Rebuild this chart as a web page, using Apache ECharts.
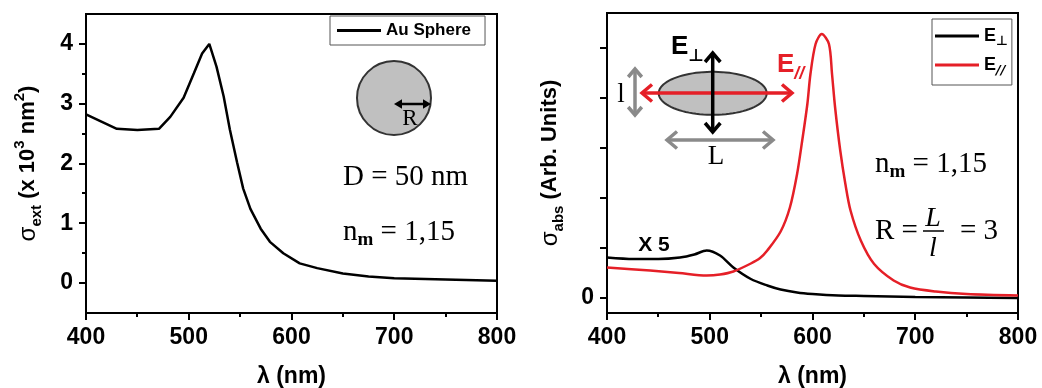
<!DOCTYPE html>
<html><head><meta charset="utf-8">
<script src="https://cdn.jsdelivr.net/npm/echarts@6/dist/echarts.min.js"></script>
<style>html,body{margin:0;padding:0;background:#fff}#c{width:1042px;height:388px}</style>
</head><body><div id="c"></div>
<script>
// ---- data ----
const extLambda = [400,415,430,450,471,482,495,505,513,520,527,534,540,547,553,560,570,579,592,608,625,650,675,700,750,800];
const extSigma  = [2.82,2.70,2.58,2.56,2.58,2.78,3.10,3.51,3.84,4.00,3.62,3.12,2.57,2.02,1.58,1.24,0.91,0.69,0.50,0.33,0.25,0.16,0.11,0.08,0.06,0.04];
const perpLambda = [400,426,450,471,485,497,510,523,540,556,569,585,600,625,650,700,750,800];
const perpSigma  = [0.81,0.78,0.78,0.81,0.87,0.95,0.85,0.61,0.38,0.25,0.17,0.11,0.08,0.05,0.04,0.02,0.01,0.0];
const parLambda = [400,442,470,497,510,523,540,549,556,569,578,585,590,595,598,603,609,616,619,622,627,632,637,647,660,679,695,720,750,800];
const parSigma  = [0.61,0.55,0.50,0.45,0.47,0.53,0.69,0.80,0.95,1.33,1.81,2.48,3.15,3.88,4.48,5.08,5.28,5.08,4.48,3.81,2.95,2.28,1.75,1.15,0.68,0.35,0.21,0.13,0.08,0.05];
const xMajorTicks = [400,500,600,700,800];
const xMinorTicks = [450,550,650,750];
const extMajorTicks = [0,1,2,3,4];
const extMinorTicks = [0.5,1.5,2.5,3.5];
const absTicks = [0,1,2,3,4,5];
const absLabels = [0];
const seriesNames = ['Au Sphere','E⊥','E//'];

const SANS = '"Liberation Sans", Arial, sans-serif';
const SERIF = '"Liberation Serif", "Times New Roman", serif';
const RED = '#e51f27';
const GREY = '#8a8a8a';
const TICK_COLOR = '#000';

function zip(a,b){return a.map((v,i)=>[v,b[i]]);}

function xAxis(g){
  return {type:'value',gridIndex:g,min:400,max:800,
    axisLine:{show:true,onZero:false,lineStyle:{color:'#000',width:2}},
    axisTick:{show:false},
    splitLine:{show:false},
    axisLabel:{customValues:xMajorTicks,color:'#000',fontFamily:SANS,fontWeight:'bold',fontSize:23,margin:13},
    name:'λ (nm)',nameLocation:'middle',nameGap:52,
    nameTextStyle:{color:'#000',fontFamily:SANS,fontWeight:'bold',fontSize:23}};
}
const nameRich = {
  a:{fontFamily:SANS,fontWeight:'bold',fontSize:22,lineHeight:32,color:'#000'},
  sg:{fontFamily:SANS,fontSize:24,lineHeight:32,color:'#000'},
  b:{fontFamily:SANS,fontWeight:'bold',fontSize:15,lineHeight:13,verticalAlign:'bottom',color:'#000'},
  c:{fontFamily:SANS,fontWeight:'bold',fontSize:15,lineHeight:13,verticalAlign:'top',color:'#000'}
};

function arrowHead(tx,ty,dx,dy,size,color,w){
  const px=-dy, py=dx;
  return {type:'polyline',z:50,shape:{points:[[tx-dx*size+px*size*0.85,ty-dy*size+py*size*0.85],[tx,ty],[tx-dx*size-px*size*0.85,ty-dy*size-py*size*0.85]]},
    style:{stroke:color,lineWidth:w,fill:null,lineJoin:'miter',lineCap:'butt'}};
}
function dblArrow(x1,y1,x2,y2,color,w,size){
  const L=Math.hypot(x2-x1,y2-y1), dx=(x2-x1)/L, dy=(y2-y1)/L;
  return [
    {type:'line',z:50,shape:{x1:x1+dx*2,y1:y1+dy*2,x2:x2-dx*2,y2:y2-dy*2},style:{stroke:color,lineWidth:w}},
    arrowHead(x2,y2,dx,dy,size,color,w),
    arrowHead(x1,y1,-dx,-dy,size,color,w)
  ];
}
function filledArrow(x1,x2,y,size,color,w){
  return [
    {type:'line',z:50,shape:{x1:x1+size,y1:y,x2:x2-size,y2:y},style:{stroke:color,lineWidth:w}},
    {type:'polygon',z:50,shape:{points:[[x1,y],[x1+size,y-size*0.6],[x1+size,y+size*0.6]]},style:{fill:color}},
    {type:'polygon',z:50,shape:{points:[[x2,y],[x2-size,y-size*0.6],[x2-size,y+size*0.6]]},style:{fill:color}}
  ];
}
function ellipsePts(cx,cy,rx,ry){
  const p=[];for(let i=0;i<90;i++){const t=i/90*Math.PI*2;p.push([cx+rx*Math.cos(t),cy+ry*Math.sin(t)]);}return p;
}
function txt(x,y,text,style){
  return {type:'text',z:60,x:x,y:y,style:Object.assign({text:text,fill:'#000',textAlign:'left',textVerticalAlign:'middle'},style)};
}
const nmRich = {
  n:{fontFamily:SERIF,fontSize:29,lineHeight:36,color:'#000'},
  m:{fontFamily:SERIF,fontWeight:'bold',fontSize:19,lineHeight:18,verticalAlign:'bottom',color:'#000'}
};

const graphics = [
  {type:'circle',z:40,shape:{cx:394,cy:98,r:37},style:{fill:'#c0c0c0',stroke:'#333',lineWidth:2}},
  ...filledArrow(394,431,104,8,'#000',2.5),
  txt(410,119,'R',{font:'23px '+SERIF,textAlign:'center'}),
  txt(343,177,'D = 50 nm',{font:'29px '+SERIF}),
  txt(343,232,'{n|n}{m|m}{n| = 1,15}',{rich:nmRich}),
  {type:'polygon',z:40,shape:{points:ellipsePts(712.7,93.3,54,21.5)},style:{fill:'#c0c0c0',stroke:'#333',lineWidth:2}},
  ...dblArrow(635,69,635,115,GREY,3.5,8),
  ...dblArrow(667,140,773,140,GREY,3.5,10),
  ...dblArrow(642,93,792,93,RED,3.5,10),
  ...dblArrow(712.7,53,712.7,132,'#000',3.5,9),
  txt(621,95,'l',{font:'27px '+SERIF,textAlign:'center'}),
  txt(716,157,'L',{font:'27px '+SERIF,textAlign:'center'}),
  txt(671,47,'{e|E}{s|⊥}',{rich:{e:{fontFamily:SANS,fontWeight:'bold',fontSize:26,lineHeight:36,fill:'#000'},s:{fontFamily:'"DejaVu Sans", sans-serif',fontWeight:'bold',fontSize:17,lineHeight:16,verticalAlign:'bottom',fill:'#000'}}}),
  txt(777,65,'{e|E}{s|//}',{fill:RED,rich:{e:{fontFamily:SANS,fontWeight:'bold',fontSize:26,lineHeight:36,fill:RED},s:{fontFamily:SANS,fontWeight:'bold',fontStyle:'italic',fontSize:18,lineHeight:18,verticalAlign:'bottom',fill:RED}}}),
  txt(654,245,'X 5',{font:'bold 21px '+SANS,textAlign:'center'}),
  txt(875,164,'{n|n}{m|m}{n| = 1,15}',{rich:nmRich}),
  txt(875,231,'R =',{font:'29px '+SERIF}),
  txt(933,219,'L',{font:'italic 28px '+SERIF,textAlign:'center'}),
  {type:'line',z:60,shape:{x1:923,y1:231,x2:944,y2:231},style:{stroke:'#000',lineWidth:1.5}},
  txt(933,249,'l',{font:'italic 28px '+SERIF,textAlign:'center'}),
  txt(960,231,'= 3',{font:'29px '+SERIF})
];

const chart = echarts.init(document.getElementById('c'),null,{renderer:'canvas'});
chart.setOption({
  backgroundColor:'#fff',
  animation:false,
  grid:[
    {left:86,top:14,width:411,height:299,show:true,borderColor:'#000',borderWidth:2,backgroundColor:'transparent',outerBoundsMode:'none'},
    {left:607,top:13,width:411,height:300,show:true,borderColor:'#000',borderWidth:2,backgroundColor:'transparent',outerBoundsMode:'none'}
  ],
  xAxis:[xAxis(0),xAxis(1)],
  yAxis:[
    {type:'value',gridIndex:0,min:-0.5,max:4.5,
      axisLine:{show:true,onZero:false,lineStyle:{color:'#000',width:2}},
      axisTick:{show:false},
      axisLabel:{customValues:extMajorTicks,color:'#000',fontFamily:SANS,fontWeight:'bold',fontSize:23,margin:13},
      splitLine:{show:false},
      name:'{sg|σ}{b|ext}{a| (x 10}{c|3}{a| nm}{c|2}{a|)}',nameLocation:'middle',nameRotate:90,nameGap:42,
      nameTextStyle:{rich:nameRich}},
    {type:'value',gridIndex:1,min:-0.3,max:5.7,
      axisLine:{show:true,onZero:false,lineStyle:{color:'#000',width:2}},
      axisTick:{show:false},
      axisLabel:{customValues:absLabels,color:'#000',fontFamily:SANS,fontWeight:'bold',fontSize:23,margin:13},
      splitLine:{show:false},
      name:'{sg|σ}{b|abs}{a| (Arb. Units)}',nameLocation:'middle',nameRotate:90,nameGap:41,
      nameTextStyle:{rich:nameRich}}
  ],
  legend:[
    {data:[seriesNames[0]],left:330,top:16,orient:'vertical',selectedMode:false,icon:'rect',
      borderColor:'#555',borderWidth:1,padding:[6,14,6,7],itemWidth:44,itemHeight:3,itemGap:5,
      textStyle:{fontFamily:SANS,fontWeight:'bold',fontSize:17,color:'#000'}},
    {data:[seriesNames[1],seriesNames[2]],left:932,top:19,orient:'vertical',selectedMode:false,icon:'rect',
      borderColor:'#555',borderWidth:1,padding:[8,4,8,3],itemWidth:44,itemHeight:3,itemGap:8,
      formatter:function(n){return n===seriesNames[1]?'{e|E}{s|⊥}':'{e|E}{s|//}';},
      textStyle:{color:'#000',rich:{
        e:{fontFamily:SANS,fontWeight:'bold',fontSize:18,lineHeight:24,color:'#000'},
        s:{fontFamily:'"DejaVu Sans", sans-serif',fontWeight:'bold',fontStyle:'italic',fontSize:13,lineHeight:12,verticalAlign:'bottom',color:'#000'}}}}
  ],
  series:[
    {name:seriesNames[0],type:'line',xAxisIndex:0,yAxisIndex:0,data:zip(extLambda,extSigma),
      showSymbol:false,symbol:'none',smooth:false,lineStyle:{color:'#000',width:2.5},itemStyle:{color:'#000'}},
    {name:seriesNames[1],type:'line',xAxisIndex:1,yAxisIndex:1,data:zip(perpLambda,perpSigma),
      showSymbol:false,symbol:'none',smooth:0.3,lineStyle:{color:'#000',width:2.5},itemStyle:{color:'#000'}},
    {name:seriesNames[2],type:'line',xAxisIndex:1,yAxisIndex:1,data:zip(parLambda,parSigma),
      showSymbol:false,symbol:'none',smooth:0.3,lineStyle:{color:RED,width:2.5},itemStyle:{color:RED}}
  ],
  graphic:graphics
});

// axis ticks (major and minor), placed through the axes' own scales
const ticks = [];
function tickLine(x1,y1,x2,y2){ticks.push({type:'line',z:70,shape:{x1:x1,y1:y1,x2:x2,y2:y2},style:{stroke:TICK_COLOR,lineWidth:2}});}
function xTickSet(xi,yi,yMin,vals,len){
  const yb = Math.round(chart.convertToPixel({yAxisIndex:yi}, yMin));
  vals.forEach(v=>{const px=Math.round(chart.convertToPixel({xAxisIndex:xi}, v)); tickLine(px,yb,px,yb+len);});
}
function yTickSet(yi,xi,vals,len){
  const xl = Math.round(chart.convertToPixel({xAxisIndex:xi}, 400));
  vals.forEach(v=>{const py=Math.round(chart.convertToPixel({yAxisIndex:yi}, v)); tickLine(xl,py,xl-len,py);});
}
xTickSet(0,0,-0.5,xMajorTicks,7);
xTickSet(0,0,-0.5,xMinorTicks,4);
xTickSet(1,1,-0.3,xMajorTicks,7);
xTickSet(1,1,-0.3,xMinorTicks,4);
yTickSet(0,0,extMajorTicks,7);
yTickSet(0,0,extMinorTicks,4);
yTickSet(1,1,absTicks,7);
chart.setOption({graphic:graphics.concat(ticks)});
</script></body></html>
